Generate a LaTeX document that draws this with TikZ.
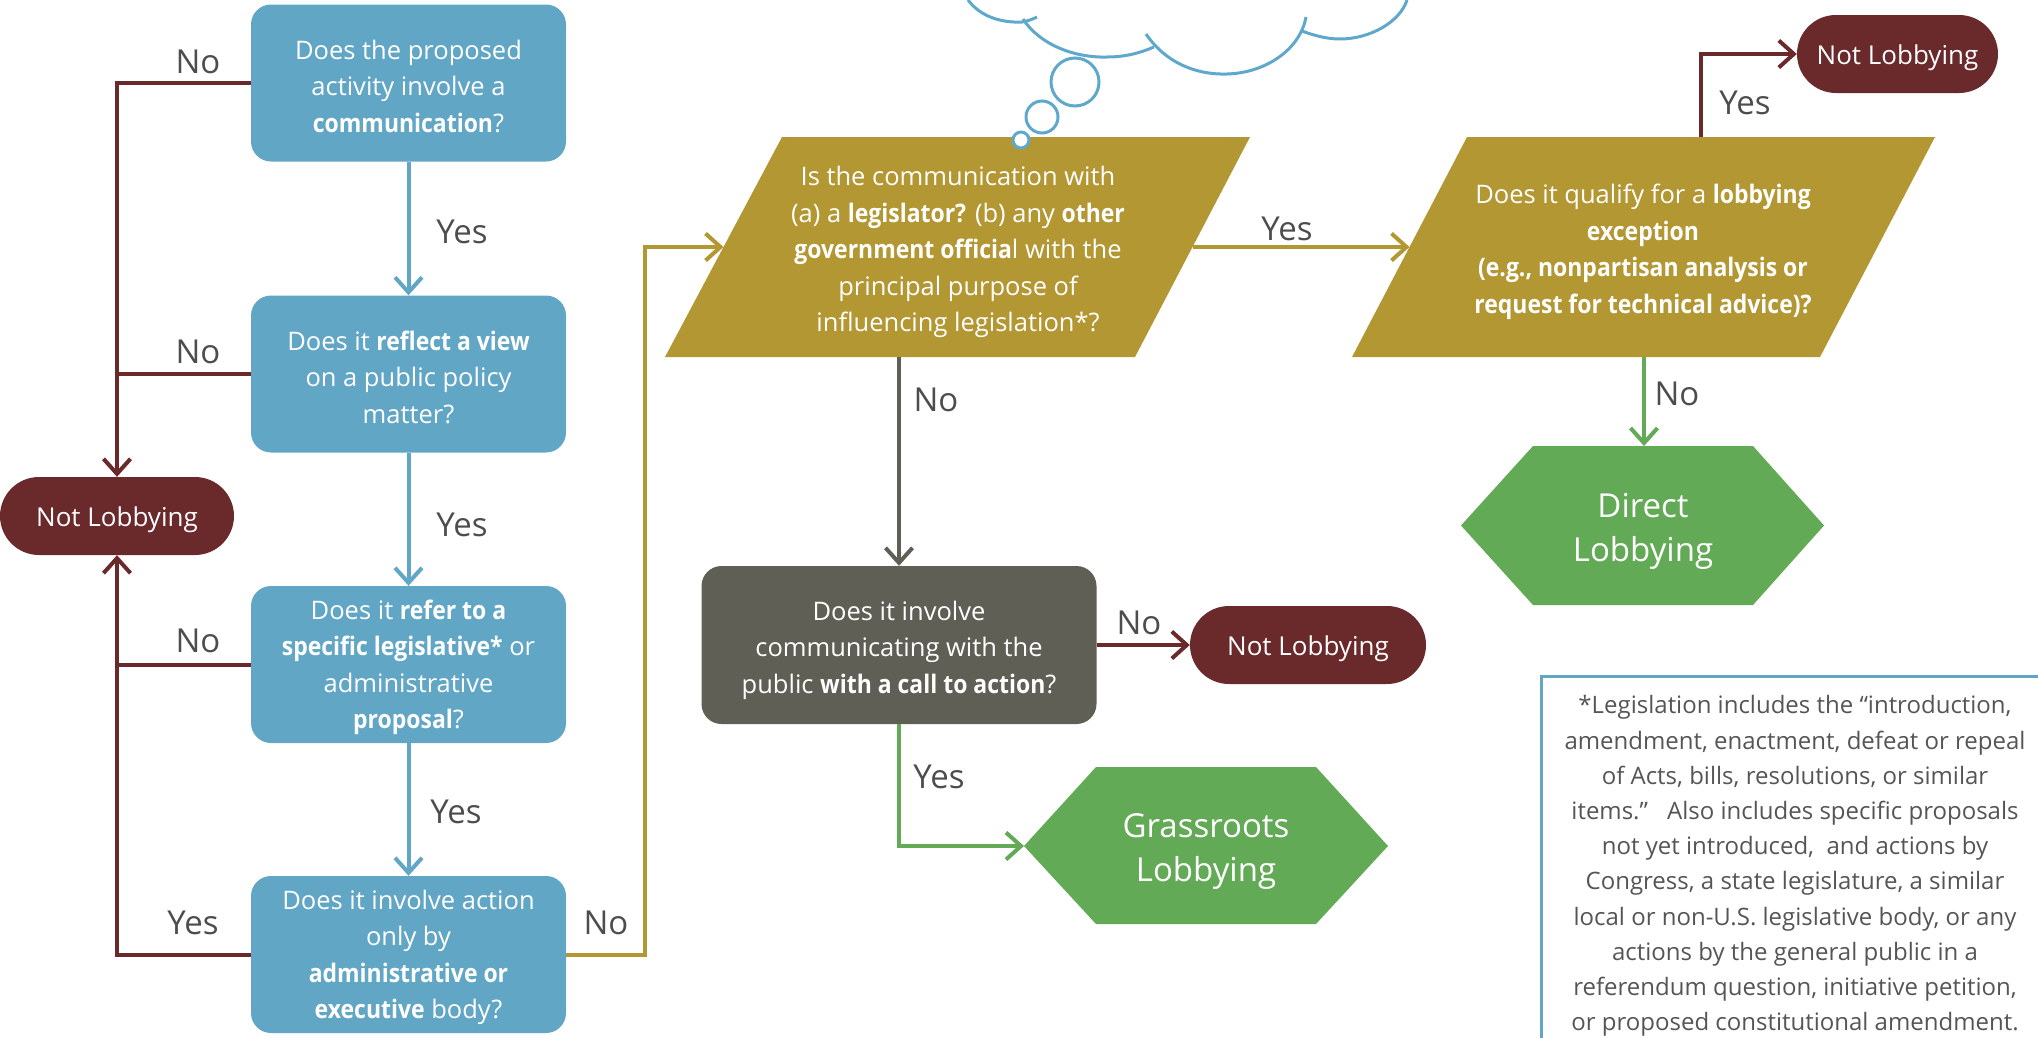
\documentclass[tikz,border=0pt]{standalone}
\usepackage{fontspec}
\setmainfont{Open Sans}[BoldFeatures={FakeStretch=0.9}]
\usetikzlibrary{arrows.meta,shapes.misc}
\definecolor{cblue}{HTML}{62A6C6}
\definecolor{cmaroon}{HTML}{6A292B}
\definecolor{cgold}{HTML}{B39733}
\definecolor{cgray}{HTML}{605F55}
\definecolor{cgreen}{HTML}{62AA55}
\definecolor{clabel}{HTML}{4D4D4D}
\definecolor{ccloud}{HTML}{5EA8CB}
\definecolor{cnote}{HTML}{555555}
\newcommand{\mylower}[2]{\raisebox{-#1}[\height][\depth]{#2}}
\begin{document}
\begin{tikzpicture}[x=1pt,y=-1pt,
  boxtext/.style={text=white, align=center, font=\fontsize{25.5pt}{36.5pt}\selectfont, inner sep=0pt},
  qbox/.style={boxtext, rectangle, rounded corners=20pt, minimum width=315pt, minimum height=157pt, fill=cblue},
  graybox/.style={qbox, fill=cgray, minimum width=395pt, minimum height=158pt},
  endbox/.style={rounded rectangle, fill=cmaroon, text=white, font=\fontsize{26pt}{32pt}\selectfont, minimum height=78pt, inner sep=0pt},
  hextext/.style={text=white, align=center, font=\fontsize{33pt}{44pt}\selectfont, inner sep=0pt},
  lbl/.style={text=clabel, font=\fontsize{33pt}{40pt}\selectfont, inner sep=0pt},
  flow/.style={line width=4pt, -{Straight Barb[length=15pt,width=27pt]}},
  plainline/.style={line width=4pt},
  cloudline/.style={draw=ccloud, line width=3pt}
]
\useasboundingbox (0,0) rectangle (2038,1037);

% ---------- left column ----------
\node[qbox] (q1) at (408.5,83) {\mylower{3pt}{\parbox{300pt}{\centering Does the proposed\\activity involve a\\\textbf{communication}?}}};
\node[qbox] (q2) at (408.5,374) {\mylower{3pt}{\parbox{300pt}{\centering Does it \textbf{reflect a view}\\on a public policy\\matter?}}};
\node[qbox] (q3) at (408.5,664.5) {\mylower{3pt}{\parbox{300pt}{\centering Does it \textbf{refer to a}\\\textbf{specific legislative*} or\\administrative\\\textbf{proposal}?}}};
\node[qbox] (q4) at (408.5,954.5) {\mylower{3pt}{\parbox{300pt}{\centering Does it involve action\\only by\\\textbf{administrative or}\\\textbf{executive} body?}}};
\node[endbox, minimum width=234pt] (nl1) at (117,516) {\mylower{4pt}{Not Lobbying}};

\draw[flow, cblue] (q1) -- (q2);
\draw[flow, cblue] (q2) -- (q3);
\draw[flow, cblue] (q3) -- (q4);

\draw[flow, cmaroon] (q1.west) -| (nl1.north);
\draw[plainline, cmaroon] (q2.west) -- (q2.west -| nl1.north);
\draw[plainline, cmaroon] (q3.west) -- (q3.west -| nl1.south);
\draw[flow, cmaroon] (q4.west) -| (nl1.south);

% ---------- parallelogram 1 ----------
\coordinate (p1tl) at (782,137);
\coordinate (p1tr) at (1250,137);
\coordinate (p1br) at (1135,357);
\coordinate (p1bl) at (665,357);
\coordinate (p1in) at (723.5,247);
\coordinate (p1out) at (1192.5,247);
\coordinate (p1bot) at (899,357);
\fill[cgold] (p1tl) -- (p1tr) -- (p1br) -- (p1bl) -- cycle;
\node[boxtext] (p1) at (958,252) {Is the communication with\\(a) a \textbf{legislator?} (b) any \textbf{other}\\\textbf{government officia}l with the\\principal purpose of\\influencing legislation*?};

% ---------- parallelogram 2 ----------
\coordinate (p2tl) at (1467,137);
\coordinate (p2tr) at (1935,137);
\coordinate (p2br) at (1820,357);
\coordinate (p2bl) at (1352,357);
\coordinate (p2in) at (1409.5,247);
\coordinate (p2top) at (1701,137);
\coordinate (p2bot) at (1644,357);
\fill[cgold] (p2tl) -- (p2tr) -- (p2br) -- (p2bl) -- cycle;
\node[boxtext] (p2) at (1643,252) {Does it qualify for a \textbf{lobbying}\\\textbf{exception}\\\textbf{(e.g., nonpartisan analysis or}\\\textbf{request for technical advice)?}};

\draw[flow, cgold] (q4.east) -- ++(79,0) |- (p1in);
\draw[flow, cgold] (p1out) -- (p2in);

% ---------- gray question ----------
\node[graybox] (g) at (899,645) {\mylower{5pt}{\parbox{380pt}{\centering Does it involve\\communicating with the\\public \textbf{with a call to action}?}}};
\node[endbox, minimum width=236pt] (nl2) at (1308,645) {\mylower{4pt}{Not Lobbying}};
\draw[flow, cgray] (p1bot) -- (g.north);
\draw[flow, cmaroon] (g.east) -- (nl2.west);

% ---------- grassroots hexagon ----------
\coordinate (grl) at (1024,846);
\coordinate (grtl) at (1096,767);
\coordinate (grtr) at (1316,767);
\coordinate (grr) at (1388,846);
\coordinate (grbr) at (1316,924);
\coordinate (grbl) at (1096,924);
\fill[cgreen] (grl) -- (grtl) -- (grtr) -- (grr) -- (grbr) -- (grbl) -- cycle;
\node[hextext] (gr) at (1206,852) {Grassroots\\Lobbying};
\draw[flow, cgreen] (g.south) |- (grl);

% ---------- direct hexagon ----------
\coordinate (dll) at (1461,525.5);
\coordinate (dltl) at (1533,446);
\coordinate (dltop) at (1644,446);
\coordinate (dltr) at (1753,446);
\coordinate (dlr) at (1824,525.5);
\coordinate (dlbr) at (1753,605);
\coordinate (dlbl) at (1533,605);
\fill[cgreen] (dll) -- (dltl) -- (dltr) -- (dlr) -- (dlbr) -- (dlbl) -- cycle;
\node[hextext] (dl) at (1643,531) {Direct\\Lobbying};
\draw[flow, cgreen] (p2bot) -- (dltop);

% ---------- top right ----------
\node[endbox, minimum width=201pt] (nl3) at (1897.5,54) {\mylower{4pt}{Not Lobbying}};
\draw[flow, cmaroon] (p2top) |- (nl3.west);

% ---------- labels ----------
\node[lbl] (l1) at (198,62) {No};
\node[lbl] (l2) at (198,352) {No};
\node[lbl] (l3) at (198,641) {No};
\node[lbl] (l4) at (193,923) {Yes};
\node[lbl] (l5) at (462,232) {Yes};
\node[lbl] (l6) at (462,525) {Yes};
\node[lbl] (l7) at (456,812) {Yes};
\node[lbl] (l8) at (606,923) {No};
\node[lbl] (l9) at (936,400) {No};
\node[lbl] (l10) at (1287,229) {Yes};
\node[lbl] (l11) at (1139,623) {No};
\node[lbl] (l12) at (939,777) {Yes};
\node[lbl] (l13) at (1745,103) {Yes};
\node[lbl] (l14) at (1677,394) {No};

% ---------- cloud ----------
\draw[cloudline] (968,0) .. controls (980,16) and (1000,23) .. (1022,22) .. controls (1028,21) and (1033,19) .. (1037,17);
\draw[cloudline] (1023,19) .. controls (1040,45) and (1075,58) .. (1107,57) .. controls (1125,57) and (1140,53) .. (1154,47);
\draw[cloudline] (1146,34) .. controls (1165,62) and (1195,75) .. (1227,74) .. controls (1265,73) and (1300,50) .. (1306,17);
\draw[cloudline] (1302,31) .. controls (1318,37) and (1330,39) .. (1340,39) .. controls (1370,39) and (1400,22) .. (1407,0);
\draw[cloudline, fill=white] (1075,82) circle[radius=24];
\draw[cloudline, fill=white] (1042,117) circle[radius=16];
\draw[cloudline, fill=white] (1021,140) circle[radius=8];

% ---------- footnote ----------
\draw[draw=cblue, line width=3pt] (2040,676) -- (1541,676) -- (1541,1040);
\node[text=cnote, align=center, font=\fontsize{24pt}{35.2pt}\selectfont, inner sep=0pt] (fn) at (1795,866) {*Legislation includes the “introduction,\\amendment, enactment, defeat or repeal\\of Acts, bills, resolutions, or similar\\items.”\hspace{0.8em}Also includes specific proposals\\not yet introduced,\ \ and actions by\\Congress, a state legislature, a similar\\local or non-U.S. legislative body, or any\\actions by the general public in a\\referendum question, initiative petition,\\or proposed constitutional amendment.};
\end{tikzpicture}
\end{document}
